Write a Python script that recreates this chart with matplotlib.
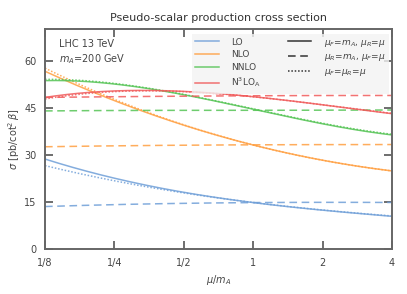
import numpy as np
import matplotlib
matplotlib.use('Agg')
import matplotlib.pyplot as plt
from matplotlib.lines import Line2D

# mu/m_A sample points
x = [1/8, 1/4, 1/2, 1, 2, 4]

# sigma [pb/cot^2 beta]
lo_solid = [28.7, 22.6, 18.1, 14.9, 12.4, 10.5]
lo_dash = [13.6, 14.2, 14.6, 14.9, 14.9, 14.9]
lo_dot = [26.6, 21.8, 17.9, 14.9, 12.5, 10.6]

nlo_solid = [56.6, 47.2, 39.6, 33.0, 28.4, 24.9]
nlo_dash = [32.6, 32.9, 33.1, 33.2, 33.3, 33.3]
nlo_dot = [57.6, 47.6, 39.7, 33.0, 28.4, 24.9]

nnlo_solid = [53.6, 52.6, 49.2, 44.3, 40.1, 36.3]
nnlo_dash = [44.0, 44.1, 44.2, 44.2, 44.2, 44.3]
nnlo_dot = [54.0, 52.8, 49.3, 44.4, 40.3, 36.5]

n3lo_solid = [48.3, 50.3, 50.3, 48.4, 46.0, 43.1]
n3lo_dash = [48.3, 48.5, 48.7, 48.8, 48.9, 48.9]
n3lo_dot = [47.8, 50.1, 50.2, 48.4, 46.0, 43.2]

orders = ['LO', 'NLO', 'NNLO', r'N$^3$LO$_\mathrm{A}$']
colors = ['#6f9fd8', '#ff9f40', '#55c455', '#f05a5a']
series = [(lo_solid, lo_dash, lo_dot), (nlo_solid, nlo_dash, nlo_dot),
          (nnlo_solid, nnlo_dash, nnlo_dot), (n3lo_solid, n3lo_dash, n3lo_dot)]

xticks = [1/8, 1/4, 1/2, 1, 2, 4]
xticklabels = ['1/8', '1/4', '1/2', '1', '2', '4']
yticks = [0, 15, 30, 45, 60]

plt.rcParams['font.family'] = 'DejaVu Sans'
fig = plt.figure(figsize=(4.07, 2.94), dpi=100)
ax = fig.add_axes([0.1106, 0.152, 0.8525, 0.749])

xs = np.geomspace(1/8, 4, 200)
lx = np.log2(x)
for (s, d, dt), c in zip(series, colors):
    # smooth curves through the read points (cubic in log2 x)
    for vals, ls in ((s, '-'), (d, (0, (5, 3))), (dt, (0, (1, 1.2)))):
        p = np.polyfit(lx, vals, 3)
        ax.plot(xs, np.polyval(p, np.log2(xs)), color=c, ls=ls, lw=1.1, alpha=0.85)

ax.set_xscale('log', base=2)
ax.set_xlim(1/8, 4)
ax.set_ylim(0, 70)
ax.set_xticks(xticks)
ax.set_xticklabels(xticklabels)
ax.xaxis.set_minor_locator(plt.NullLocator())
ax.set_yticks(yticks)
ax.tick_params(direction='in', top=True, right=True, length=6, width=1.2,
               color='#555555', labelsize=7, labelcolor='#444444', pad=6)
for sp in ax.spines.values():
    sp.set_color('#666666')
    sp.set_linewidth(1.4)

ax.set_title('Pseudo-scalar production cross section', fontsize=8, color='#333333', pad=6)
ax.set_xlabel(r'$\mu/m_A$', fontsize=7, color='#444444', labelpad=4)
ax.set_ylabel(r'$\sigma$ [pb/cot$^2\,\beta$]', fontsize=7, color='#444444', labelpad=2)

ax.text(0.04, 0.92, 'LHC 13 TeV', transform=ax.transAxes, fontsize=7, color='#444444')
ax.text(0.04, 0.85, r'$m_A$=200 GeV', transform=ax.transAxes, fontsize=7, color='#444444')

handles = [Line2D([], [], color=c, lw=1.1, alpha=0.85) for c in colors]
handles += [Line2D([], [], color='#333333', lw=1.1, ls='-'),
            Line2D([], [], color='#333333', lw=1.1, ls=(0, (5, 3))),
            Line2D([], [], color='#333333', lw=1.1, ls=(0, (1, 1.2))),
            Line2D([], [], color='none')]
labels = orders + [r'$\mu_F$=$m_A$, $\mu_R$=$\mu$', r'$\mu_R$=$m_A$, $\mu_F$=$\mu$',
                   r'$\mu_F$=$\mu_R$=$\mu$', '']
leg = ax.legend(handles, labels, ncol=2, loc='upper right', fontsize=6.5,
                frameon=True, fancybox=False, borderaxespad=0.3, handlelength=2.6,
                columnspacing=3.0, labelspacing=0.4, handletextpad=1.4,
                bbox_to_anchor=(1.0, 0.99))
leg.get_frame().set_facecolor('#f3f3f3')
leg.get_frame().set_edgecolor('none')
for t in leg.get_texts():
    t.set_color('#444444')

fig.savefig('out.png', dpi=100)
